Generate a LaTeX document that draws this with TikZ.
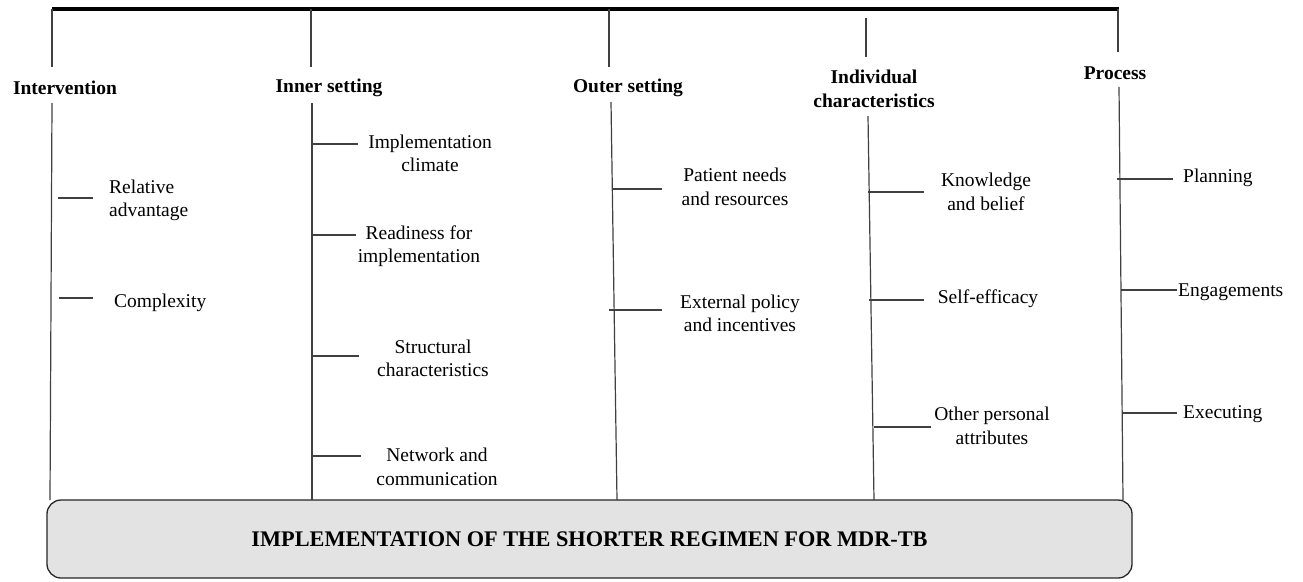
\documentclass[tikz,border=0pt]{standalone}
\usepackage{fontspec}
\setmainfont{Liberation Serif}
\begin{document}
\begin{tikzpicture}[x=1pt,y=-1pt,
  stem/.style={draw=black!75, line width=1.2pt},
  twig/.style={draw=black!75, line width=1.2pt},
  head/.style={font=\fontsize{19.5}{24}\selectfont\bfseries, align=center, inner sep=0pt},
  item/.style={font=\fontsize{19.5}{23.5}\selectfont, align=center, inner sep=0pt},
  basebox/.style={draw=black!85, line width=1.3pt, rounded corners=14pt, fill=black!11,
    minimum width=1085pt, minimum height=78pt, inner sep=0pt,
    font=\fontsize{22.3}{26}\selectfont\bfseries},
]
\useasboundingbox (0,0) rectangle (1303,581);

% base box
\node[basebox] (base) at (589.5,539) {IMPLEMENTATION OF THE SHORTER REGIMEN FOR MDR-TB};

% top bar
\coordinate (barL) at (52,9);
\coordinate (barR) at (1119,9);
\draw[line width=4pt] (barL) -- (barR);

% domain headings
\node[head] (hInt) at (65,88) {Intervention};
\node[head] (hInn) at (329,88) {Inner setting};
\node[head] (hOut) at (628,88) {Outer setting};
\node[head] (hInd) at (874,89) {Individual\\characteristics};
\node[head] (hPro) at (1115,73) {Process};

% stems: upper parts
\coordinate (t1) at (52,9);   \coordinate (u1) at (52,67);
\coordinate (t2) at (311,9);  \coordinate (u2) at (311,67);
\coordinate (t3) at (609,9);  \coordinate (u3) at (609,67);
\coordinate (t4) at (866,18); \coordinate (u4) at (866,57);
\coordinate (t5) at (1118,9); \coordinate (u5) at (1118,52);
\draw[stem] (t1) -- (u1);
\draw[stem] (t2) -- (u2);
\draw[stem] (t3) -- (u3);
\draw[stem] (t4) -- (u4);
\draw[stem] (t5) -- (u5);

% stems: lower parts down to the base box
\coordinate (l1) at (52,103);   \coordinate (b1) at (50,500);
\coordinate (l2) at (312,103);  \coordinate (b2) at (312,500);
\coordinate (l3) at (611,102);  \coordinate (b3) at (617,500);
\coordinate (l4) at (868,116);  \coordinate (b4) at (874,500);
\coordinate (l5) at (1119,87);  \coordinate (b5) at (1123,500);
\draw[stem] (l1) -- (b1);
\draw[stem] (l2) -- (b2);
\draw[stem] (l3) -- (b3);
\draw[stem] (l4) -- (b4);
\draw[stem] (l5) -- (b5);

% Intervention
\node[item, anchor=west, align=left] (i1) at (109,200.5) {Relative\\advantage};
\node[item, anchor=west] (i2) at (114,303) {Complexity};
\coordinate (i1a) at (58,198); \coordinate (i1b) at (93,198);
\coordinate (i2a) at (59,298); \coordinate (i2b) at (93,298);
\draw[twig] (i1a) -- (i1b);
\draw[twig] (i2a) -- (i2b);

% Inner setting
\node[item] (n1) at (430,153.5) {Implementation\\climate};
\node[item] (n2) at (419,246) {Readiness for\\implementation};
\node[item] (n3) at (433,358.5) {Structural\\characteristics};
\node[item] (n4) at (437,467) {Network and\\communication};
\coordinate (n1a) at (312,144); \coordinate (n1b) at (358,144);
\coordinate (n2a) at (312,235); \coordinate (n2b) at (356,235);
\coordinate (n3a) at (312,356); \coordinate (n3b) at (359,356);
\coordinate (n4a) at (312,456); \coordinate (n4b) at (361,456);
\draw[twig] (n1a) -- (n1b);
\draw[twig] (n2a) -- (n2b);
\draw[twig] (n3a) -- (n3b);
\draw[twig] (n4a) -- (n4b);

% Outer setting
\node[item] (o1) at (735,187) {Patient needs\\and resources};
\node[item] (o2) at (740,313.5) {External policy\\and incentives};
\coordinate (o1a) at (613,189); \coordinate (o1b) at (662,189);
\coordinate (o2a) at (609,310); \coordinate (o2b) at (662,310);
\draw[twig] (o1a) -- (o1b);
\draw[twig] (o2a) -- (o2b);

% Individual characteristics
\node[item] (d1) at (986,192) {Knowledge\\and belief};
\node[item] (d2) at (988,299) {Self-efficacy};
\node[item] (d3) at (992,426) {Other personal\\attributes};
\coordinate (d1a) at (868,192); \coordinate (d1b) at (924,192);
\coordinate (d2a) at (869,300); \coordinate (d2b) at (924,300);
\coordinate (d3a) at (874,427); \coordinate (d3b) at (931,427);
\draw[twig] (d1a) -- (d1b);
\draw[twig] (d2a) -- (d2b);
\draw[twig] (d3a) -- (d3b);

% Process
\node[item, anchor=west] (p1) at (1183,178) {Planning};
\node[item, anchor=west] (p2) at (1178,292) {Engagements};
\node[item, anchor=west] (p3) at (1183,414) {Executing};
\coordinate (p1a) at (1117,179); \coordinate (p1b) at (1173,179);
\coordinate (p2a) at (1121,290); \coordinate (p2b) at (1177,290);
\coordinate (p3a) at (1122,413); \coordinate (p3b) at (1177,413);
\draw[twig] (p1a) -- (p1b);
\draw[twig] (p2a) -- (p2b);
\draw[twig] (p3a) -- (p3b);
\end{tikzpicture}
\end{document}
